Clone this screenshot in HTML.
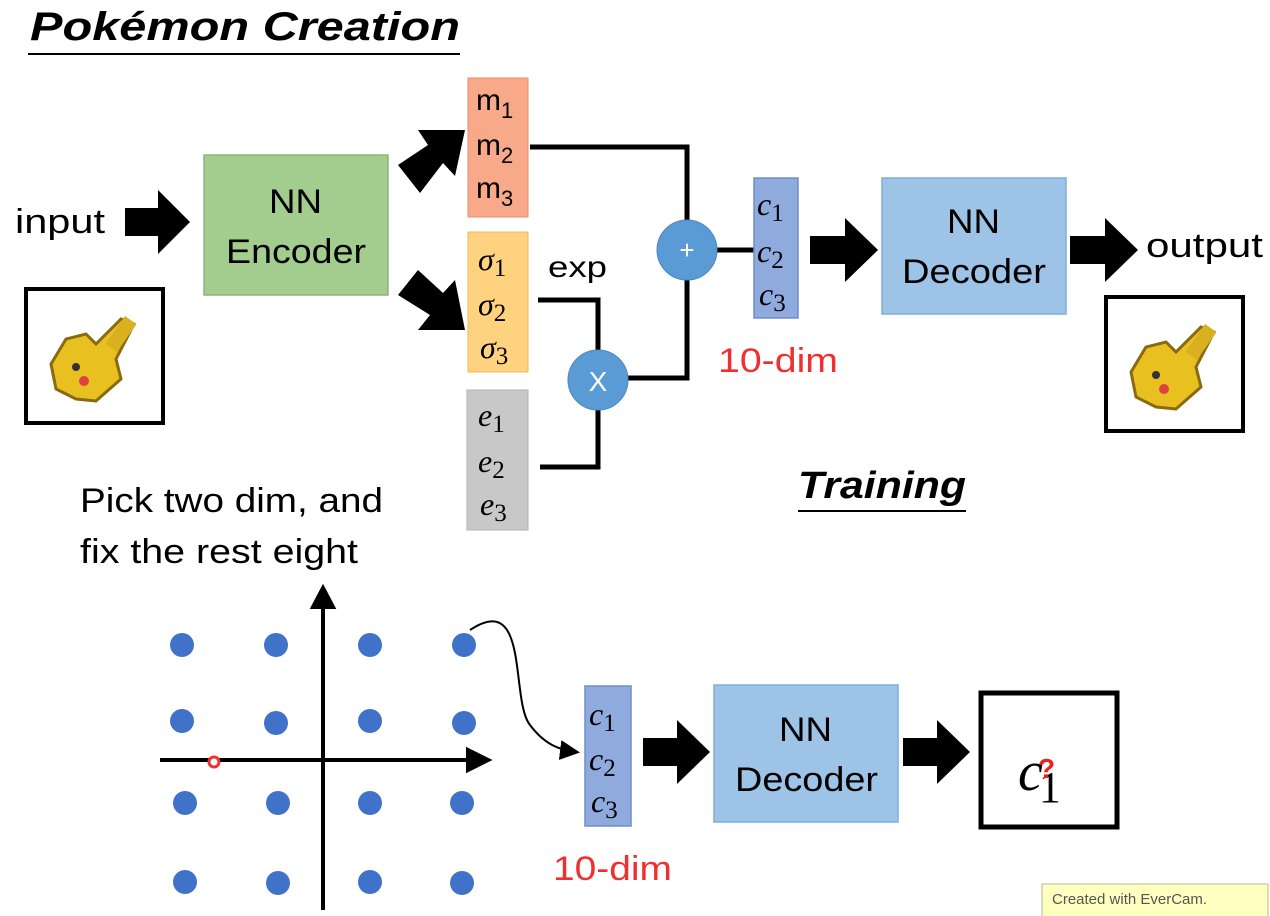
<!DOCTYPE html>
<html><head><meta charset="utf-8"><style>
body{margin:0;background:#fff;width:1270px;height:916px;overflow:hidden}
svg{display:block}
.s{font-family:"Liberation Sans",sans-serif}
.m{font-family:"Liberation Serif",serif;font-style:italic}
</style></head><body>
<svg width="1270" height="916" viewBox="0 0 1270 916" xmlns="http://www.w3.org/2000/svg">
<defs>
<g id="pika">
<rect x="0" y="0" width="137" height="134" fill="#fff" stroke="#000" stroke-width="4"/>
<path d="M25 75 L40 50 L60 45 L70 55 L95 30 L108 35 L90 70 L95 90 L70 112 L50 110 L30 100 Z" fill="#e8c020" stroke="#8a6a10" stroke-width="3"/>
<rect x="88" y="28" width="14" height="34" fill="#d8b020" transform="rotate(35 95 45)"/>
<circle cx="50" cy="78" r="4" fill="#333"/><circle cx="58" cy="92" r="5" fill="#e04040"/>
</g>
<marker id="ah" markerWidth="10" markerHeight="10" refX="8" refY="5" orient="auto"><path d="M0 0 L10 5 L0 10 Z" fill="#000"/></marker>
</defs>
<text x="30" y="40" class="s" font-size="40" font-weight="bold" font-style="italic" textLength="430" lengthAdjust="spacingAndGlyphs">Pokémon Creation</text>
<line x1="28" y1="54" x2="460" y2="54" stroke="#000" stroke-width="2"/>

<g stroke="#000" stroke-width="5" fill="none">
<path d="M530 147 H687 V222"/>
<path d="M717 250 H754"/>
<path d="M687 280 V378 H628"/>
<path d="M538 300 H598 V352"/>
<path d="M540 467 H598 V408"/>
</g>

<g fill="#000">
<path d="M125 208 H158 V190 L190 222 L158 254 V236 H125 Z"/>
<path d="M810 236 H845 V218 L878 250 L845 282 V264 H810 Z"/>
<path d="M1070 236 H1105 V218 L1138 250 L1105 282 V264 H1070 Z"/>
<path d="M643 738 H677 V720 L710 752 L677 784 V766 H643 Z"/>
<path d="M903 738 H937 V720 L970 752 L937 784 V766 H903 Z"/>
<path d="M398 165 L428 145 L418 130 L465 130 L455 176 L443 163 L420 193 Z"/>
<path d="M398 295 L418 270 L443 293 L455 280 L465 330 L418 330 L430 315 Z"/>
</g>

<text x="15" y="233" class="s" font-size="34" textLength="90" lengthAdjust="spacingAndGlyphs">input</text>
<use href="#pika" x="26" y="289"/>
<use href="#pika" x="1106" y="297"/>

<rect x="204" y="155" width="184" height="140" fill="#a3cc8f" stroke="#8cb57a" stroke-width="1.5"/>
<text x="269" y="213" class="s" font-size="34" textLength="53" lengthAdjust="spacingAndGlyphs">NN</text>
<text x="226" y="263" class="s" font-size="34" textLength="140" lengthAdjust="spacingAndGlyphs">Encoder</text>

<rect x="468" y="78" width="60" height="139" fill="#f8a98a" stroke="#f08a6a"/>
<g class="s" font-size="30"><text x="476" y="110">m<tspan font-size="22" dy="8">1</tspan></text>
<text x="476" y="155">m<tspan font-size="22" dy="8">2</tspan></text>
<text x="476" y="198">m<tspan font-size="22" dy="8">3</tspan></text></g>

<rect x="468" y="232" width="60" height="140" fill="#ffd280" stroke="#f5b850"/>
<g class="m" font-size="32"><text x="478" y="270">σ<tspan font-size="25" dy="6" font-style="normal">1</tspan></text>
<text x="478" y="315">σ<tspan font-size="25" dy="6" font-style="normal">2</tspan></text>
<text x="480" y="358">σ<tspan font-size="25" dy="6" font-style="normal">3</tspan></text></g>
<text x="548" y="277" class="s" font-size="30" textLength="59" lengthAdjust="spacingAndGlyphs">exp</text>

<rect x="467" y="390" width="61" height="140" fill="#c8c8c8" stroke="#b0b0b0"/>
<g class="m" font-size="32"><text x="478" y="426">e<tspan font-size="25" dy="6" font-style="normal">1</tspan></text>
<text x="478" y="472">e<tspan font-size="25" dy="6" font-style="normal">2</tspan></text>
<text x="480" y="515">e<tspan font-size="25" dy="6" font-style="normal">3</tspan></text></g>

<circle cx="687" cy="250" r="30" fill="#5b9bd5" stroke="#4a88c0"/>
<text x="687" y="259" class="s" font-size="26" fill="#fff" text-anchor="middle">+</text>
<circle cx="598" cy="380" r="30" fill="#5b9bd5" stroke="#4a88c0"/>
<text x="598" y="391" class="s" font-size="28" fill="#fff" text-anchor="middle">X</text>

<rect x="754" y="178" width="44" height="140" fill="#8faadc" stroke="#6f8cc8" stroke-width="1.5"/>
<g class="m" font-size="32"><text x="757" y="215">c<tspan font-size="25" dy="6" font-style="normal">1</tspan></text>
<text x="757" y="262">c<tspan font-size="25" dy="6" font-style="normal">2</tspan></text>
<text x="759" y="305">c<tspan font-size="25" dy="6" font-style="normal">3</tspan></text></g>
<text x="718" y="372" class="s" font-size="34" fill="#f03030" textLength="120" lengthAdjust="spacingAndGlyphs">10-dim</text>

<rect x="882" y="178" width="184" height="136" fill="#9dc3e6" stroke="#7faed8" stroke-width="1.5"/>
<text x="947" y="233" class="s" font-size="34" textLength="53" lengthAdjust="spacingAndGlyphs">NN</text>
<text x="902" y="283" class="s" font-size="34" textLength="144" lengthAdjust="spacingAndGlyphs">Decoder</text>
<text x="1146" y="257" class="s" font-size="34" textLength="117" lengthAdjust="spacingAndGlyphs">output</text>

<text x="798" y="498" class="s" font-size="38" font-weight="bold" font-style="italic" textLength="168" lengthAdjust="spacingAndGlyphs">Training</text>
<line x1="798" y1="511" x2="966" y2="511" stroke="#000" stroke-width="2"/>

<text x="80" y="512" class="s" font-size="34" textLength="303" lengthAdjust="spacingAndGlyphs">Pick two dim, and</text>
<text x="80" y="563" class="s" font-size="34" textLength="278" lengthAdjust="spacingAndGlyphs">fix the rest eight</text>

<g stroke="#000" stroke-width="4" fill="#000">
<line x1="323" y1="910" x2="323" y2="605"/>
<path d="M313 607 L323 588 L333 607 Z"/>
<line x1="160" y1="760" x2="470" y2="760"/>
<path d="M468 750 L488 760 L468 770 Z"/>
</g>
<g fill="#3f72c8">
<circle cx="182" cy="645" r="12"/><circle cx="276" cy="645" r="12"/><circle cx="370" cy="645" r="12"/><circle cx="464" cy="645" r="12"/>
<circle cx="182" cy="721" r="12"/><circle cx="276" cy="723" r="12"/><circle cx="370" cy="721" r="12"/><circle cx="464" cy="723" r="12"/>
<circle cx="185" cy="803" r="12"/><circle cx="278" cy="803" r="12"/><circle cx="370" cy="803" r="12"/><circle cx="462" cy="803" r="12"/>
<circle cx="185" cy="882" r="12"/><circle cx="278" cy="883" r="12"/><circle cx="370" cy="882" r="12"/><circle cx="462" cy="883" r="12"/>
</g>
<circle cx="214" cy="762" r="5" fill="#fff" stroke="#f03030" stroke-width="3"/>
<path d="M470 630 C530 590 510 700 530 725 C545 745 560 750 576 752" stroke="#000" stroke-width="2" fill="none" marker-end="url(#ah)"/>

<rect x="585" y="686" width="46" height="140" fill="#8faadc" stroke="#6f8cc8" stroke-width="1.5"/>
<g class="m" font-size="32"><text x="589" y="725">c<tspan font-size="25" dy="6" font-style="normal">1</tspan></text>
<text x="589" y="770">c<tspan font-size="25" dy="6" font-style="normal">2</tspan></text>
<text x="591" y="812">c<tspan font-size="25" dy="6" font-style="normal">3</tspan></text></g>
<text x="553" y="880" class="s" font-size="34" fill="#f03030" textLength="119" lengthAdjust="spacingAndGlyphs">10-dim</text>

<rect x="714" y="685" width="184" height="137" fill="#9dc3e6" stroke="#7faed8" stroke-width="1.5"/>
<text x="779" y="741" class="s" font-size="34" textLength="53" lengthAdjust="spacingAndGlyphs">NN</text>
<text x="735" y="791" class="s" font-size="34" textLength="143" lengthAdjust="spacingAndGlyphs">Decoder</text>

<rect x="981" y="693" width="136" height="134" fill="#fff" stroke="#000" stroke-width="5"/>
<text x="1018" y="790" class="m" font-size="56">c<tspan font-size="44" font-style="normal" dx="-4" dy="12">1</tspan></text>
<text x="1038" y="778" class="s" font-size="28" font-weight="bold" fill="#f02020">?</text>

<rect x="1042" y="884" width="226" height="34" fill="#ffffc0" stroke="#b8b890"/>
<text x="1052" y="904" class="s" font-size="15" fill="#555">Created with EverCam.</text>
</svg>
</body></html>
